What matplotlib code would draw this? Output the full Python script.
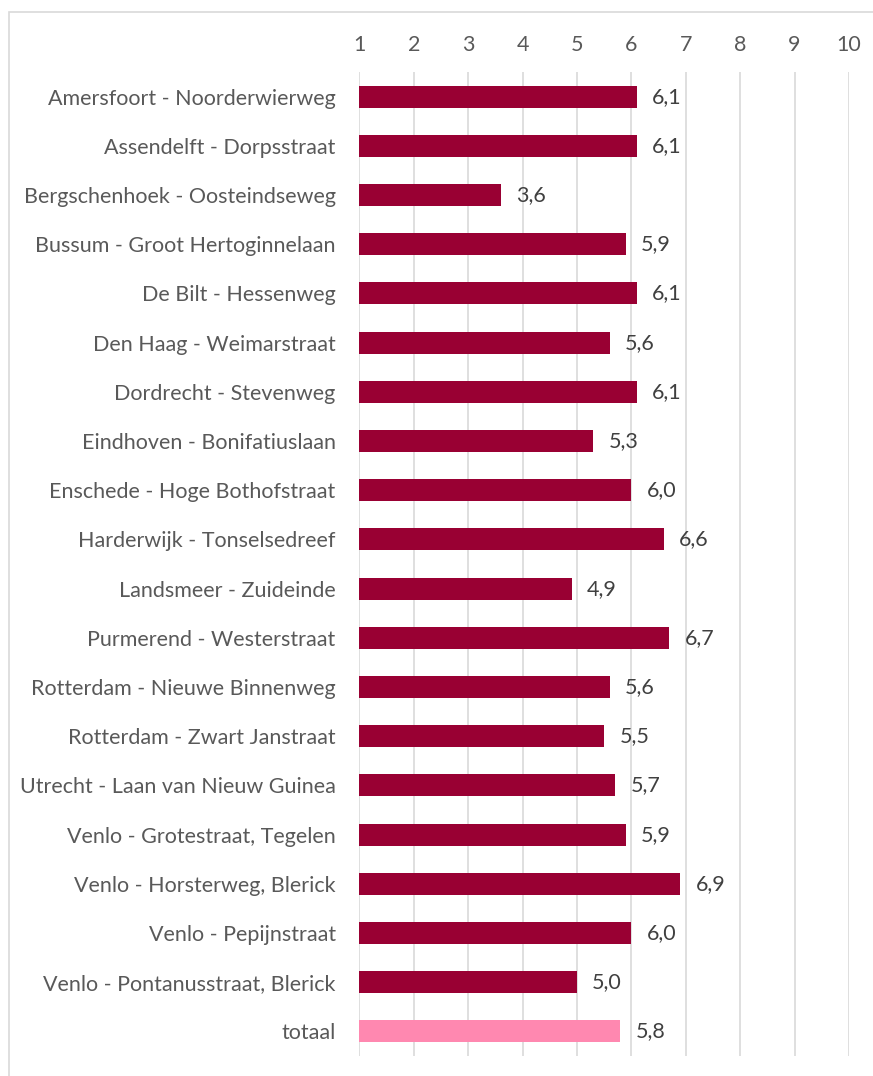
import matplotlib
matplotlib.use("Agg")
import matplotlib.pyplot as plt
from matplotlib.patches import Rectangle

locations = [
    "Amersfoort - Noorderwierweg",
    "Assendelft - Dorpsstraat",
    "Bergschenhoek - Oosteindseweg",
    "Bussum - Groot Hertoginnelaan",
    "De Bilt - Hessenweg",
    "Den Haag - Weimarstraat",
    "Dordrecht - Stevenweg",
    "Eindhoven - Bonifatiuslaan",
    "Enschede - Hoge Bothofstraat",
    "Harderwijk - Tonselsedreef",
    "Landsmeer - Zuideinde",
    "Purmerend - Westerstraat",
    "Rotterdam - Nieuwe Binnenweg",
    "Rotterdam - Zwart Janstraat",
    "Utrecht - Laan van Nieuw Guinea",
    "Venlo - Grotestraat, Tegelen",
    "Venlo - Horsterweg, Blerick",
    "Venlo - Pepijnstraat",
    "Venlo - Pontanusstraat, Blerick",
    "totaal",
]
scores = [6.1, 6.1, 3.6, 5.9, 6.1, 5.6, 6.1, 5.3, 6.0, 6.6,
          4.9, 6.7, 5.6, 5.5, 5.7, 5.9, 6.9, 6.0, 5.0, 5.8]
ticks = [1, 2, 3, 4, 5, 6, 7, 8, 9, 10]

plt.rcParams['font.family'] = ['Lato', 'DejaVu Sans']

W, H = 873, 1076
fig = plt.figure(figsize=(W / 100, H / 100), dpi=100)
ax = fig.add_axes([359.3 / W, 1 - 1056 / H, (849 - 359.3) / W, (1056 - 72) / H])

colors = ['#990033'] * (len(scores) - 1) + ['#ff88b0']
ypos = list(range(len(scores)))
ax.barh(ypos, [s - 1 for s in scores], left=1, height=0.45, color=colors, zorder=3)

for y, s in zip(ypos, scores):
    ax.annotate(f"{s:.1f}".replace('.', ','), (s, y), xytext=(11, 0),
                textcoords='offset points', va='center', ha='left',
                fontsize=15.5, color='#404040', zorder=4)

ax.set_xlim(1, 10)
ax.set_ylim(len(scores) - 0.5, -0.5)
ax.set_xticks(ticks)
ax.set_yticks(ypos)
ax.set_yticklabels(locations)
ax.xaxis.tick_top()
ax.tick_params(axis='x', length=0, pad=12, labelsize=15.5, labelcolor='#595959')
ax.tick_params(axis='y', length=0, pad=17, labelsize=15.5, labelcolor='#595959')
ax.grid(axis='x', color='#d9d9d9', linewidth=1.2, zorder=0)
for sp in ax.spines.values():
    sp.set_visible(False)

# light frame around the chart area
fig.add_artist(Rectangle((8.5 / W, -0.1), 1.2, 1.1 - 12.5 / H,
                         transform=fig.transFigure, fill=False,
                         edgecolor='#d9d9d9', linewidth=1.2))

fig.savefig("out.png", dpi=100)
